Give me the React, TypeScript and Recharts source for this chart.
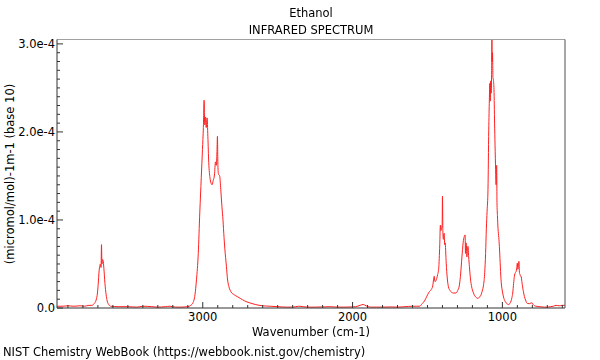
import React from 'react';
import { Line, LineChart, XAxis, YAxis } from 'recharts';

// wavenumber (cm-1), high to low as drawn left to right
const wavenumbers = [
  3973, 3940, 3900, 3860, 3820, 3790, 3760, 3740, 3725, 3712, 3703, 3698, 3692, 3687, 3683,
  3679, 3676, 3673, 3669, 3665, 3660, 3653, 3645, 3638, 3628, 3615, 3560, 3500, 3440, 3400,
  3340, 3300, 3250, 3220, 3180, 3150, 3100, 3080, 3065, 3052, 3042, 3030, 3020, 3010, 3002,
  2996, 2991, 2987, 2982, 2977, 2971, 2966, 2960, 2952, 2945, 2938, 2930, 2922, 2915, 2910,
  2905, 2902, 2899, 2895, 2887, 2880, 2872, 2865, 2858, 2853, 2842, 2835, 2825, 2810, 2790,
  2770, 2750, 2720, 2690, 2650, 2600, 2550, 2500, 2440, 2400, 2360, 2330, 2290, 2250, 2200,
  2150, 2100, 2050, 2010, 1980, 1950, 1930, 1910, 1880, 1840, 1800, 1750, 1700, 1650, 1600,
  1575, 1553, 1535, 1520, 1505, 1490, 1475, 1465, 1458, 1455, 1450, 1444, 1432, 1425, 1418,
  1414, 1410, 1406, 1402, 1400, 1397, 1394, 1389, 1385, 1382, 1375, 1368, 1360, 1350, 1340,
  1325, 1310, 1298, 1288, 1280, 1270, 1262, 1258, 1252, 1249, 1246, 1243, 1240, 1237, 1233,
  1229, 1225, 1220, 1213, 1205, 1195, 1185, 1175, 1165, 1155, 1145, 1135, 1125, 1118, 1112,
  1107, 1102, 1096, 1091, 1087, 1084, 1081, 1078, 1075, 1072, 1070, 1068, 1066, 1063, 1060,
  1056, 1052, 1049, 1045, 1042, 1040, 1038, 1036, 1033, 1029, 1024, 1020, 1015, 1009, 1003,
  998, 990, 980, 970, 960, 950, 942, 936, 931, 925, 920, 914, 909, 904, 900,
  897, 895, 892, 889, 886, 882, 878, 875, 870, 865, 860, 853, 845, 838, 831,
  820, 810, 802, 795, 785, 775, 750, 720, 700, 680, 660, 642, 620, 600, 582,
];

// absorbance in units of 1e-4 (micromol/mol)-1 m-1
const absorbance = [
  0.02, 0.02, 0.025, 0.02, 0.025, 0.02, 0.03, 0.03, 0.05, 0.09, 0.17, 0.27, 0.42, 0.48, 0.5,
  0.46, 0.72, 0.5, 0.55, 0.54, 0.45, 0.28, 0.15, 0.08, 0.04, 0.02, 0.015, 0.015, 0.01, 0.02,
  0.015, 0.01, 0.015, 0.02, 0.01, 0.01, 0.015, 0.03, 0.06, 0.15, 0.32, 0.62, 1.08, 1.48, 1.8,
  2.05, 2.36, 2.08, 2.17, 2.05, 2.16, 1.95, 1.65, 1.48, 1.42, 1.4, 1.45, 1.51, 1.66, 1.62,
  1.78, 1.95, 1.62, 1.52, 1.5, 1.35, 1.15, 1.0, 0.8, 0.68, 0.47, 0.33, 0.24, 0.18, 0.15,
  0.13, 0.11, 0.08, 0.06, 0.04, 0.025, 0.02, 0.015, 0.01, 0.01, 0.02, 0.015, 0.01, 0.01, 0.012,
  0.015, 0.01, 0.01, 0.012, 0.015, 0.03, 0.04, 0.025, 0.01, 0.01, 0.01, 0.012, 0.01, 0.015, 0.02,
  0.02, 0.02, 0.05, 0.08, 0.13, 0.18, 0.21, 0.25, 0.34, 0.36, 0.3, 0.31, 0.38, 0.45, 0.72,
  0.94, 0.88, 0.9, 0.95, 1.27, 0.85, 0.78, 0.85, 0.72, 0.74, 0.51, 0.34, 0.24, 0.2, 0.18,
  0.17, 0.17, 0.2, 0.25, 0.36, 0.58, 0.74, 0.79, 0.82, 0.83, 0.62, 0.74, 0.72, 0.58, 0.68,
  0.7, 0.58, 0.47, 0.33, 0.24, 0.18, 0.14, 0.12, 0.11, 0.12, 0.14, 0.19, 0.27, 0.4, 0.62,
  0.9, 1.1, 1.35, 2.02, 2.36, 2.55, 2.35, 2.58, 2.44, 2.65, 3.08, 2.8, 2.9, 2.62, 2.59,
  2.48, 2.1, 1.85, 1.57, 1.4, 1.61, 1.62, 1.2, 1.05, 0.9, 0.8, 0.7, 0.52, 0.32, 0.22,
  0.17, 0.11, 0.07, 0.05, 0.04, 0.05, 0.08, 0.12, 0.17, 0.28, 0.36, 0.4, 0.41, 0.46, 0.51,
  0.44, 0.45, 0.52, 0.53, 0.4, 0.38, 0.36, 0.36, 0.3, 0.24, 0.19, 0.13, 0.09, 0.06, 0.05,
  0.05, 0.055, 0.06, 0.04, 0.025, 0.02, 0.015, 0.01, 0.01, 0.015, 0.02, 0.03, 0.025, 0.03, 0.03,
];

const xMajorTicks = [1000, 2000, 3000];
const yMajorTicks = [0, 1, 2, 3];
const yTickLabels = ['0.0', '1.0e-4', '2.0e-4', '3.0e-4'];

const xTicks: number[] = [];
for (let v = 600; v <= 3900; v += 100) xTicks.push(v);
const yTicks: number[] = [];
for (let i = 0; i <= 30; i++) yTicks.push(i / 10);

const data = wavenumbers.map((wn, i) => ({ wn, abs: absorbance[i] }));

const FONT = '"DejaVu Sans", sans-serif';
const FS = 11.5;
const AXIS = '#333';

const XTick = ({ x, y, payload }: any) => {
  const major = xMajorTicks.includes(payload.value);
  return (
    <g>
      <line x1={x} x2={x} y1={y} y2={y - (major ? 6 : 3)} stroke={AXIS} />
      {major && (
        <text x={x} y={y + 5} dy="0.71em" textAnchor="middle" fontSize={FS} fontFamily={FONT} fill="#000">
          {payload.value}
        </text>
      )}
    </g>
  );
};

const YTick = ({ x, y, payload }: any) => {
  const idx = yMajorTicks.findIndex((t) => Math.abs(t - payload.value) < 1e-6);
  const major = idx >= 0;
  return (
    <g>
      <line x1={x} x2={x + (major ? 6 : 3)} y1={y} y2={y} stroke={AXIS} />
      {major && (
        <text x={x - 2} y={y} dy="0.35em" textAnchor="end" fontSize={FS} fontFamily={FONT} fill="#000">
          {yTickLabels[idx]}
        </text>
      )}
    </g>
  );
};

const textStyle: React.CSSProperties = {
  position: 'absolute',
  fontFamily: FONT,
  fontSize: FS,
  color: '#000',
  whiteSpace: 'nowrap',
  lineHeight: '14px',
};

export default function App() {
  return (
    <div style={{ position: 'fixed', left: 0, top: 0, width: 600, height: 360, background: '#fff' }}>
      <LineChart width={600} height={360} data={data} margin={{ top: 38.5, right: 34, bottom: 51, left: 0 }}>
        <XAxis
          dataKey="wn"
          type="number"
          domain={[582, 3973]}
          reversed
          ticks={xTicks}
          interval={0}
          tickSize={0}
          tickMargin={0}
          tick={<XTick />}
          height={1}
          axisLine={{ stroke: AXIS }}
          allowDataOverflow
        />
        <XAxis
          xAxisId="top"
          orientation="top"
          dataKey="wn"
          type="number"
          domain={[582, 3973]}
          reversed
          tick={false}
          tickLine={false}
          height={1}
          axisLine={{ stroke: '#a0a0a0' }}
        />
        <YAxis
          type="number"
          domain={[0, 3.05]}
          ticks={yTicks}
          interval={0}
          tickSize={0}
          tickMargin={0}
          tick={<YTick />}
          width={57}
          axisLine={{ stroke: AXIS }}
          allowDataOverflow
        />
        <YAxis
          yAxisId="right"
          orientation="right"
          type="number"
          domain={[0, 3.05]}
          tick={false}
          tickLine={false}
          width={1}
          axisLine={{ stroke: '#505050' }}
        />
        <Line
          type="monotone"
          dataKey="abs"
          stroke="#ff2020"
          strokeWidth={1}
          dot={false}
          isAnimationActive={false}
        />
      </LineChart>
      <div style={{ ...textStyle, left: 0, width: 622, top: 6, textAlign: 'center' }}>Ethanol</div>
      <div style={{ ...textStyle, left: 0, width: 622, top: 23, textAlign: 'center' }}>INFRARED SPECTRUM</div>
      <div style={{ ...textStyle, left: 0, width: 622, top: 325, textAlign: 'center' }}>Wavenumber (cm-1)</div>
      <div
        style={{
          ...textStyle,
          left: 10,
          top: 174,
          transform: 'translate(-50%, -50%) rotate(-90deg)',
        }}
      >
        (micromol/mol)-1m-1 (base 10)
      </div>
      <div style={{ ...textStyle, left: 3, top: 345 }}>NIST Chemistry WebBook (https://webbook.nist.gov/chemistry)</div>
    </div>
  );
}
